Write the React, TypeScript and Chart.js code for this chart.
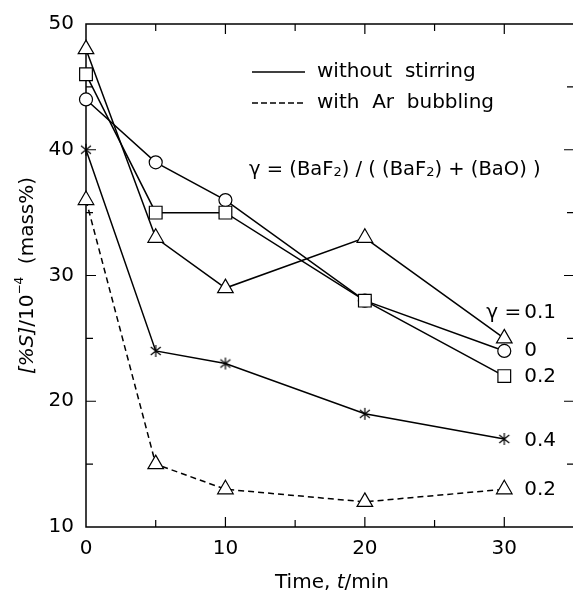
import React, { useEffect, useRef } from 'react';
import { Chart, registerables } from 'chart.js';

Chart.register(...registerables);

// ---- data ----
const times = [0, 5, 10, 20, 30];
const gamma01 = [48, 33, 29, 33, 25];
const gamma0 = [44, 39, 36, 28, 24];
const gamma02 = [46, 35, 35, 28, 22];
const gamma04 = [40, 24, 23, 19, 17];
const gamma02Ar = [36, 15, 13, 12, 13];
const xTickValues = [0, 10, 20, 30];
const yTickValues = [10, 20, 30, 40, 50];
const endLabels = ['0.1', '0', '0.2', '0.4', '0.2'];
const legendLabels = ['without  stirring', 'with  Ar  bubbling'];

const FONT = '"DejaVu Sans", "Liberation Sans", Arial, sans-serif';

function makeStar(): HTMLCanvasElement {
  const c = document.createElement('canvas');
  c.width = 14;
  c.height = 14;
  const g = c.getContext('2d')!;
  g.strokeStyle = '#000';
  g.lineWidth = 1.2;
  g.beginPath();
  g.moveTo(7, 1);
  g.lineTo(7, 13);
  g.moveTo(2, 3);
  g.lineTo(12, 11);
  g.moveTo(12, 3);
  g.lineTo(2, 11);
  g.stroke();
  return c;
}

type Piece = { t: string; size?: number; italic?: boolean; dy?: number };

function piecesWidth(ctx: CanvasRenderingContext2D, pieces: Piece[], base: number) {
  let w = 0;
  for (const p of pieces) {
    ctx.font = `${p.italic ? 'italic ' : ''}${p.size ?? base}px ${FONT}`;
    w += ctx.measureText(p.t).width;
  }
  return w;
}

function drawPieces(ctx: CanvasRenderingContext2D, pieces: Piece[], x: number, y: number, base: number) {
  let cx = x;
  ctx.textAlign = 'left';
  ctx.textBaseline = 'middle';
  for (const p of pieces) {
    ctx.font = `${p.italic ? 'italic ' : ''}${p.size ?? base}px ${FONT}`;
    ctx.fillText(p.t, cx, y + (p.dy ?? 0));
    cx += ctx.measureText(p.t).width;
  }
}

const decorPlugin = {
  id: 'decor',
  beforeDatasetsDraw(chart: any) {
    const { ctx, chartArea: a } = chart;
    const xs = chart.scales.x;
    const ys = chart.scales.y;
    ctx.save();
    ctx.strokeStyle = '#000';
    ctx.lineWidth = 1.5;
    ctx.strokeRect(a.left, a.top, a.right - a.left, a.bottom - a.top);
    ctx.lineWidth = 1.2;
    ctx.beginPath();
    for (let v = 5; v < 35; v += 5) {
      const px = xs.getPixelForValue(v);
      const len = v % 10 === 0 ? 10 : 7;
      ctx.moveTo(px, a.bottom);
      ctx.lineTo(px, a.bottom - len);
      ctx.moveTo(px, a.top);
      ctx.lineTo(px, a.top + len);
    }
    for (let v = 15; v < 50; v += 5) {
      const py = ys.getPixelForValue(v);
      const len = v % 10 === 0 ? 10 : 7;
      ctx.moveTo(a.left, py);
      ctx.lineTo(a.left + len, py);
      ctx.moveTo(a.right, py);
      ctx.lineTo(a.right - len, py);
    }
    ctx.stroke();
    ctx.restore();
  },
  afterDraw(chart: any) {
    const { ctx, chartArea: a } = chart;
    const xs = chart.scales.x;
    const ys = chart.scales.y;
    ctx.save();
    ctx.fillStyle = '#000';
    ctx.strokeStyle = '#000';

    // legend
    const lx0 = 252, lx1 = 305;
    const ly = [72, 103];
    ctx.lineWidth = 1.5;
    ctx.beginPath();
    ctx.moveTo(lx0, ly[0]);
    ctx.lineTo(lx1, ly[0]);
    ctx.stroke();
    ctx.setLineDash([6, 3]);
    ctx.beginPath();
    ctx.moveTo(lx0, ly[1]);
    ctx.lineTo(lx1, ly[1]);
    ctx.stroke();
    ctx.setLineDash([]);
    ctx.font = `20px ${FONT}`;
    ctx.textAlign = 'left';
    ctx.textBaseline = 'middle';
    ctx.fillText(legendLabels[0], 317, ly[0]);
    ctx.fillText(legendLabels[1], 317, ly[1]);

    // formula
    const formula: Piece[] = [
      { t: 'γ = (BaF' },
      { t: '2', size: 13, dy: 3 },
      { t: ') / ( (BaF' },
      { t: '2', size: 13, dy: 3 },
      { t: ') + (BaO) )' },
    ];
    drawPieces(ctx, formula, 249, 170, 19.5);

    // end labels
    const x0 = xs.getPixelForValue(30) + 20;
    const lastVals = [gamma01, gamma0, gamma02, gamma04, gamma02Ar].map((s) => s[s.length - 1]);
    const offsets = [-26, 0, 1, 2, 1];
    ctx.font = `20px ${FONT}`;
    ctx.textBaseline = 'middle';
    lastVals.forEach((v, i) => {
      const y = ys.getPixelForValue(v) + offsets[i];
      ctx.textAlign = 'left';
      ctx.fillText(endLabels[i], x0, y);
      if (i === 0) {
        ctx.textAlign = 'right';
        ctx.fillText('γ =', x0 - 3, y);
      }
    });

    // x title
    const xt: Piece[] = [{ t: 'Time, ' }, { t: 't', italic: true }, { t: '/min' }];
    const xw = piecesWidth(ctx, xt, 20);
    drawPieces(ctx, xt, (a.left + a.right) / 2 + 2 - xw / 2, 583, 20);

    // y title
    const yt: Piece[] = [
      { t: '[%S]', italic: true },
      { t: '/10' },
      { t: '−4', size: 12, dy: -8 },
      { t: '  (mass%)' },
    ];
    const yw = piecesWidth(ctx, yt, 20);
    ctx.translate(28, (a.top + a.bottom) / 2);
    ctx.rotate(-Math.PI / 2);
    drawPieces(ctx, yt, -yw / 2, 0, 20);
    ctx.restore();
  },
};

export default function App() {
  const ref = useRef<HTMLCanvasElement | null>(null);
  useEffect(() => {
    if (!ref.current) return;
    const star = makeStar();
    const mk = (vals: number[]) => times.map((t, i) => ({ x: t, y: vals[i] }));
    const common = {
      borderColor: '#000',
      borderWidth: 1.5,
      pointBackgroundColor: '#fff',
      pointBorderColor: '#000',
      pointBorderWidth: 1.2,
      clip: false as const,
      tension: 0,
      fill: false,
    };
    const chart = new Chart(ref.current, {
      type: 'line',
      data: {
        datasets: [
          { ...common, label: 'γ=0.4', data: mk(gamma04), pointStyle: star as any, pointRadius: 7 },
          { ...common, label: 'γ=0.2 (Ar bubbling)', data: mk(gamma02Ar), borderDash: [6, 4], pointStyle: 'triangle', pointRadius: 9 },
          { ...common, label: 'γ=0.2', data: mk(gamma02), pointStyle: 'rect', pointRadius: 9 },
          { ...common, label: 'γ=0', data: mk(gamma0), pointStyle: 'circle', pointRadius: 6.5 },
          { ...common, label: 'γ=0.1', data: mk(gamma01), pointStyle: 'triangle', pointRadius: 9 },
        ],
      },
      options: {
        animation: false,
        responsive: false,
        layout: { autoPadding: false, padding: { top: 24, right: 4, left: 0, bottom: 0 } },
        plugins: { legend: { display: false }, tooltip: { enabled: false } },
        scales: {
          x: {
            type: 'linear',
            min: 0,
            max: 35,
            afterBuildTicks: (s: any) => {
              s.ticks = xTickValues.map((v) => ({ value: v }));
            },
            afterFit: (s: any) => {
              s.height = 67;
            },
            grid: { display: false, drawTicks: false },
            border: { display: false },
            ticks: { color: '#000', font: { family: FONT, size: 20 }, padding: 10, maxRotation: 0, autoSkip: false },
          },
          y: {
            type: 'linear',
            min: 10,
            max: 50,
            afterBuildTicks: (s: any) => {
              s.ticks = yTickValues.map((v) => ({ value: v }));
            },
            afterFit: (s: any) => {
              s.width = 86;
            },
            grid: { display: false, drawTicks: false },
            border: { display: false },
            ticks: { color: '#000', font: { family: FONT, size: 20 }, padding: 12, autoSkip: false },
          },
        },
      },
      plugins: [decorPlugin],
    });
    return () => chart.destroy();
  }, []);
  return (
    <div style={{ position: 'absolute', left: 0, top: 0, width: 573, height: 594, overflow: 'hidden', background: '#fff' }}>
      <canvas ref={ref} width={578} height={594} style={{ display: 'block', width: 578, height: 594 }} />
    </div>
  );
}
